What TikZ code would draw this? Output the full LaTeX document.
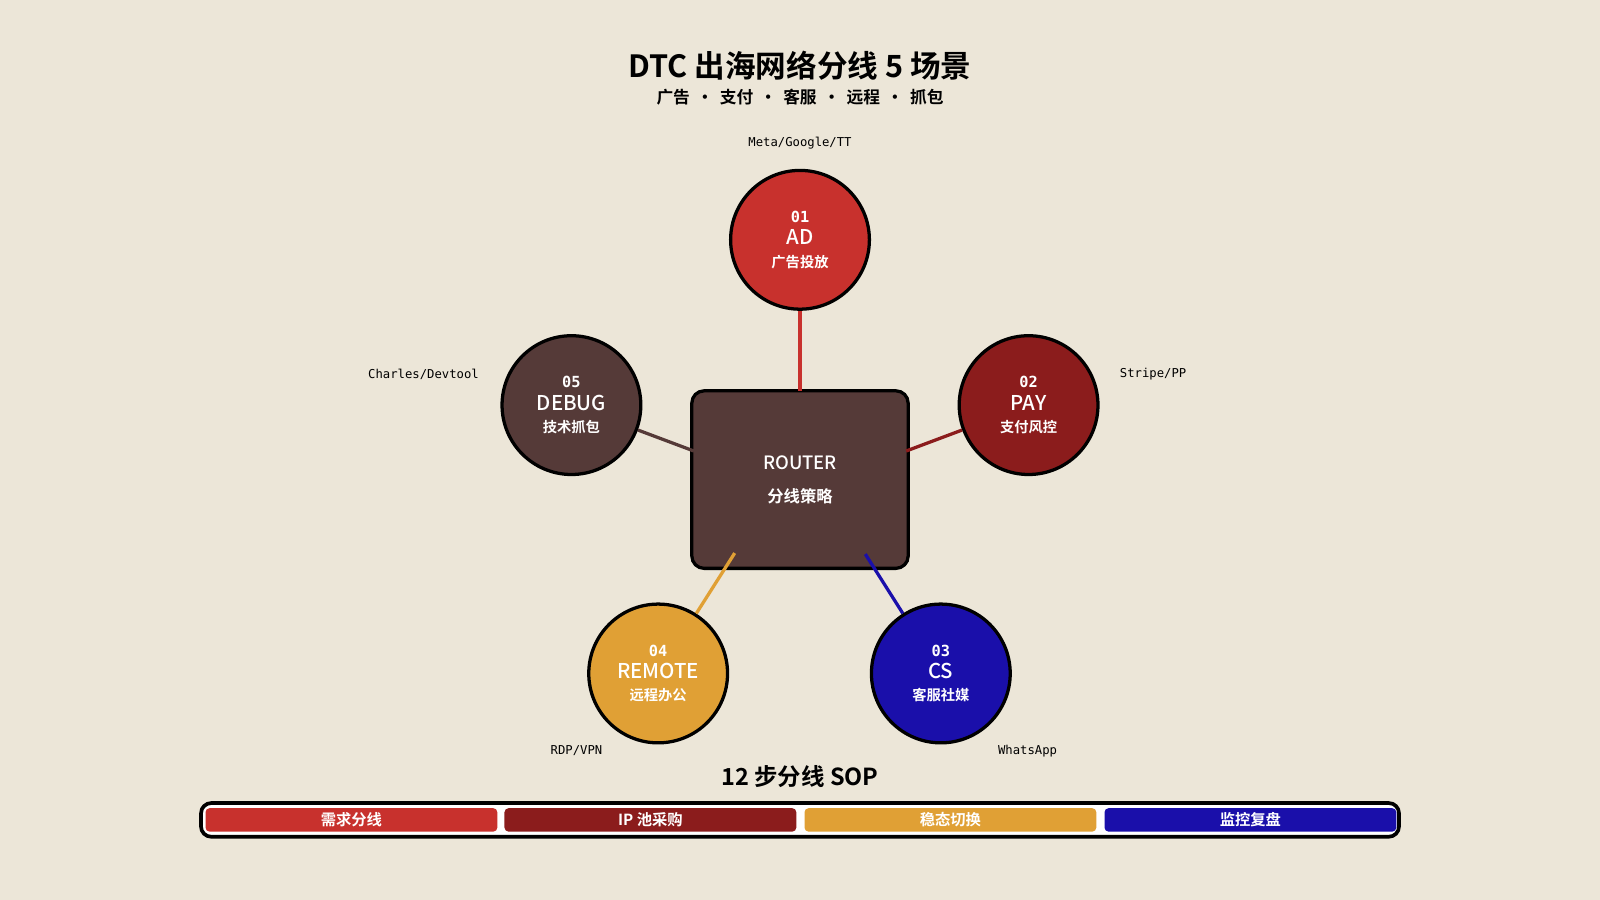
\documentclass[tikz,border=0pt]{standalone}
\usepackage{fontspec}
\setmainfont{Noto Sans CJK SC}[BoldFont={Noto Sans CJK SC Bold}]
\newfontfamily\cjkb{Noto Sans CJK SC Bold}
\newfontfamily\cjkm{Noto Sans CJK SC Medium}
\setmonofont{DejaVu Sans Mono}
\definecolor{bg}{HTML}{ECE6D8}
\definecolor{cad}{HTML}{C8312D}
\definecolor{cpay}{HTML}{8B1C1C}
\definecolor{ccs}{HTML}{1A0FAA}
\definecolor{crem}{HTML}{E0A035}
\definecolor{cdbg}{HTML}{553A38}
\tikzset{
  scen/.style={circle,draw=black,line width=1.6pt,minimum size=68pt,inner sep=0pt,align=center,text=white,font=\cjkb},
  tag/.style={font=\ttfamily\fontsize{6}{7}\selectfont,text=black},
  conn/.style={line width=1.6pt},
  seg/.style={rounded corners=2pt,text=white,font=\cjkb\fontsize{7.5}{9}\selectfont,anchor=west,minimum height=11.5pt,minimum width=143pt,inner sep=0pt},
}
\newcommand{\scn}[3]{{\ttfamily\bfseries\fontsize{7.5}{9}\selectfont #1}\\[-1pt]{\cjkm\fontsize{10}{12}\selectfont #2}\\[-1pt]{\fontsize{7}{9}\selectfont #3}}
\begin{document}
\begin{tikzpicture}[x=0.5pt,y=-0.5pt]
\fill[bg] (0,0) rectangle (1568,882);
\useasboundingbox (0,0) rectangle (1568,882);
\node[font=\cjkb\fontsize{15}{17}\selectfont] (title) at (784,64) {DTC 出海网络分线 5 场景};
\node[font=\cjkb\fontsize{8.2}{10}\selectfont] (sub) at (784,95) {广告 \,•\, 支付 \,•\, 客服 \,•\, 远程 \,•\, 抓包};
\node[draw=black,line width=1.6pt,fill=cdbg,rounded corners=6pt,minimum width=106pt,minimum height=87pt,text=white,align=center,font=\cjkb] (router) at (784,470) {{\cjkm\fontsize{9}{11}\selectfont ROUTER}\\[4pt]{\fontsize{8}{10}\selectfont 分线策略}};
\coordinate (r1) at (784,383);
\coordinate (r2) at (888,442);
\coordinate (r3) at (848,543);
\coordinate (r4) at (720,542);
\coordinate (r5) at (680,442);
\node[scen,fill=cad] (ad) at (784,235) {\scn{01}{AD}{广告投放}};
\node[scen,fill=cpay] (pay) at (1008,397) {\scn{02}{PAY}{支付风控}};
\node[scen,fill=ccs] (cs) at (922,660) {\scn{03}{CS}{客服社媒}};
\node[scen,fill=crem] (rem) at (645,660) {\scn{04}{REMOTE}{远程办公}};
\node[scen,fill=cdbg] (dbg) at (560,397) {\scn{05}{DEBUG}{技术抓包}};
\draw[conn,cad] (r1) -- (ad);
\draw[conn,cpay] (r2) -- (pay);
\draw[conn,ccs] (r3) -- (cs);
\draw[conn,crem] (r4) -- (rem);
\draw[conn,cdbg] (r5) -- (dbg);
\node[tag] (t1) at (784,140) {Meta/Google/TT};
\node[tag] (t2) at (1130,367) {Stripe/PP};
\node[tag] (t3) at (1007,736) {WhatsApp};
\node[tag] (t4) at (565,736) {RDP/VPN};
\node[tag] (t5) at (415,367) {Charles/Devtool};
\node[font=\cjkb\fontsize{11.5}{13}\selectfont] (sop) at (784,761) {12 步分线 SOP};
\draw[line width=1.8pt,rounded corners=5pt,fill=white] (197,787) rectangle (1371,820);
\node[seg,fill=cad] (s1) at (201,803.5) {需求分线};
\node[seg,fill=cpay] (s2) at (494,803.5) {IP 池采购};
\node[seg,fill=crem] (s3) at (788,803.5) {稳态切换};
\node[seg,fill=ccs] (s4) at (1082,803.5) {监控复盘};
\end{tikzpicture}
\end{document}
